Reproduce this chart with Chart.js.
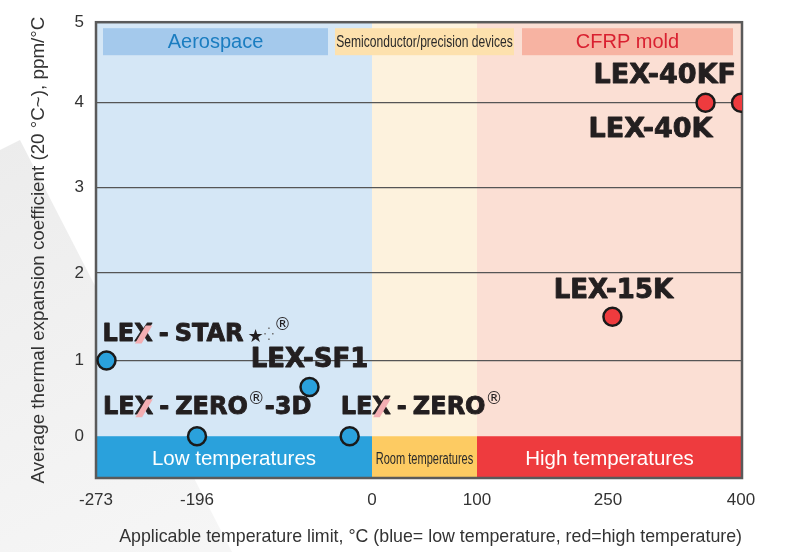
<!DOCTYPE html>
<html>
<head>
<meta charset="utf-8">
<script src="https://cdn.jsdelivr.net/npm/chart.js@4/dist/chart.umd.min.js"></script>
<style>
  html, body { margin: 0; padding: 0; background: #fff; }
  #wrap { width: 792px; height: 552px; position: relative; }
</style>
</head>
<body>
<div id="wrap"><canvas id="lexChart" width="792" height="552"></canvas></div>
<script>
/* =========================
   DATA
========================= */
const products  = ['LEX-STAR', 'LEX-ZERO-3D', 'LEX-SF1', 'LEX-ZERO', 'LEX-15K', 'LEX-40K', 'LEX-40KF'];
const tempLimit = [-265, -196, -70, -25, 255, 360, 400];     // °C
const cte       = [1, 0, 0.65, 0, 1.5, 4, 4];                // ppm/°C
const isHigh    = [false, false, false, false, true, true, true];

const xTicks = [-273, -196, 0, 100, 250, 400];
const yTicks = [0, 1, 2, 3, 4, 5];

const topBands    = ['Aerospace', 'Semiconductor/precision devices', 'CFRP mold'];
const bottomBands = ['Low temperatures', 'Room temperatures', 'High temperatures'];
const bandLimits  = [-273, 0, 100, 400];   // °C limits of the three zones

const xTitle = 'Applicable temperature limit, °C (blue= low temperature, red=high temperature)';
const yTitle = 'Average thermal expansion coefficient (20 °C~), ppm/°C';

/* =========================
   AXIS SPACING (the printed axes are not linear)
   width of each tick interval, in px
========================= */
const xGaps = [101, 175, 105, 131, 133];
const yGaps = [76, 88, 86, 85, 81];
const yBelowZero = 42;

function piecewise(ticks, gaps, v){
  let pos = 0;
  for(let i = 0; i < gaps.length; i++){
    const a = ticks[i], b = ticks[i+1];
    if(v <= b || i === gaps.length - 1){
      return pos + (v - a) / (b - a) * gaps[i];
    }
    pos += gaps[i];
  }
  return pos;
}
const xPos = v => piecewise(xTicks, xGaps, v);
const yPos = v => piecewise(yTicks, yGaps, v);

const xMax = xGaps.reduce((s, g) => s + g, 0) + 1;
const yMax = yGaps.reduce((s, g) => s + g, 0);

/* =========================
   COLOURS
========================= */
const BLUE = '#2aa1dc', RED = '#ee3b3e';
const zoneBg   = ['#d5e7f6', '#fdf2dd', '#fbdfd4'];
const zoneLow  = ['#2aa1dc', '#fdcb62', '#ee3b3e'];
const topBoxBg = ['#a4c9ec', '#fde1ad', '#f7b3a2'];
const topBoxFg = ['#1b7dc0', '#2a2a2a', '#d92030'];
const INK = '#231f20';

/* =========================
   LABELS FOR THE POINTS
========================= */
const HEAVY = 'bold 26px "DejaVu Sans"';
const LOGO  = 'bold 24px "DejaVu Sans"';
const SUP   = '17px "DejaVu Sans"';
const labelParts = [
  [{t:'LEX', f:LOGO, x:true}, {g:6}, {t:'-', f:LOGO}, {g:6}, {t:'STAR', f:LOGO}, {g:4}, {t:'★', f:'18px "DejaVu Sans"', dy:3}, {t:'⁛', f:'13px "DejaVu Sans"', dy:0, c:'#666'}, {t:'®', f:SUP, dy:-9}],
  [{t:'LEX', f:LOGO, x:true}, {g:6}, {t:'-', f:LOGO}, {g:6}, {t:'ZERO', f:LOGO}, {t:'®', f:SUP, dy:-9}, {t:'-3D', f:LOGO}],
  [{t:'LEX-SF1', f:HEAVY}],
  [{t:'LEX', f:LOGO, x:true}, {g:6}, {t:'-', f:LOGO}, {g:6}, {t:'ZERO', f:LOGO}, {t:'®', f:SUP, dy:-9}],
  [{t:'LEX-15K', f:HEAVY}],
  [{t:'LEX-40K', f:'bold 27px "DejaVu Sans"'}],
  [{t:'LEX-40KF', f:'bold 27px "DejaVu Sans"'}]
];
// [dx, dy, align] relative to the point
const labelPlace = [
  [-4, -26, 'left'], [-94, -28, 'left'], [0, -27, 'center'], [-9, -28, 'left'],
  [1, -26, 'center'], [7, 27, 'right'], [-5, -27, 'right']
];

function drawParts(c, parts, x, y, align){
  let w = 0;
  parts.forEach(p => {
    if(p.g){ w += p.g; return; }
    c.font = p.f; w += c.measureText(p.t).width;
  });
  let cx = align === 'left' ? x : align === 'right' ? x - w : x - w / 2;
  c.textAlign = 'left';
  c.textBaseline = 'middle';
  c.lineJoin = 'round';
  parts.forEach(p => {
    if(p.g){ cx += p.g; return; }
    c.font = p.f;
    c.fillStyle = p.c || INK;
    c.fillText(p.t, cx, y + (p.dy || 0));
    if(p.f.startsWith('bold')){
      c.strokeStyle = INK;
      c.lineWidth = 0.9;
      c.strokeText(p.t, cx, y + (p.dy || 0));
    }
    const pw = c.measureText(p.t).width;
    if(p.x){
      // pink hatched stroke on the X of the logo
      const xw = c.measureText('X').width;
      const x0 = cx + pw - xw;
      c.save();
      c.beginPath();
      c.moveTo(x0 + xw*0.62, y - 9); c.lineTo(x0 + xw*0.98, y - 9);
      c.lineTo(x0 + xw*0.40, y + 9); c.lineTo(x0 + xw*0.04, y + 9);
      c.closePath();
      c.fillStyle = '#f3aeb2';
      c.fill();
      c.restore();
    }
    cx += pw;
  });
}

/* =========================
   PLUGINS
========================= */
const backdrop = {
  id: 'backdrop',
  beforeDraw(chart){
    const c = chart.ctx, a = chart.chartArea;
    const xs = chart.scales.x, ys = chart.scales.y;

    // faint picture behind the left side
    c.save();
    const grd = c.createLinearGradient(0, 140, 200, 552);
    grd.addColorStop(0, '#ececec');
    grd.addColorStop(1, '#f6f6f6');
    c.fillStyle = grd;
    c.beginPath();
    c.moveTo(0, 150); c.lineTo(20, 140); c.lineTo(232, 552); c.lineTo(0, 552);
    c.closePath(); c.fill();
    c.restore();

    const zeroY = ys.getPixelForValue(yPos(0));
    for(let i = 0; i < 3; i++){
      const l = i === 0 ? a.left : xs.getPixelForValue(xPos(bandLimits[i]));
      const r = i === 2 ? a.right : xs.getPixelForValue(xPos(bandLimits[i+1]));
      c.fillStyle = zoneBg[i];
      c.fillRect(l, a.top, r - l, zeroY - a.top);
      c.fillStyle = zoneLow[i];
      c.fillRect(l, zeroY, r - l, a.bottom - zeroY);
    }

    // top boxes
    const boxes = [[103, 328], [335, 514], [522, 733]];
    boxes.forEach((b, i) => {
      c.fillStyle = topBoxBg[i];
      c.fillRect(b[0], a.top + 6, b[1] - b[0], 27);
      c.fillStyle = topBoxFg[i];
      c.textAlign = 'center';
      c.textBaseline = 'middle';
      if(i === 1){
        c.save();
        c.translate((b[0] + b[1]) / 2, a.top + 20);
        c.scale(0.71, 1);
        c.font = '17px "Liberation Sans"';
        c.fillText(topBands[i], 0, 0);
        c.restore();
      } else {
        c.font = '20px "Liberation Sans"';
        c.fillText(topBands[i], (b[0] + b[1]) / 2, a.top + 20);
      }
    });

    // bottom zone names
    const midY = (zeroY + a.bottom) / 2 + 2;
    for(let i = 0; i < 3; i++){
      const l = i === 0 ? a.left : xs.getPixelForValue(xPos(bandLimits[i]));
      const r = i === 2 ? a.right : xs.getPixelForValue(xPos(bandLimits[i+1]));
      c.textAlign = 'center';
      c.textBaseline = 'middle';
      if(i === 1){
        c.save();
        c.translate((l + r) / 2, midY);
        c.scale(0.69, 1);
        c.fillStyle = '#2a2a2a';
        c.font = '16px "Liberation Sans"';
        c.fillText(bottomBands[i], 0, 0);
        c.restore();
      } else {
        c.fillStyle = '#ffffff';
        c.font = '20.5px "Liberation Sans"';
        c.fillText(bottomBands[i], (l + r) / 2, midY);
      }
    }
  },
  beforeDatasetsDraw(chart){
    const c = chart.ctx, a = chart.chartArea;
    c.save();
    c.strokeStyle = '#5a5a5a';
    c.lineWidth = 2.5;
    c.strokeRect(a.left, a.top, a.right - a.left, a.bottom - a.top);
    c.restore();
  },
  afterDatasetsDraw(chart){
    const c = chart.ctx;
    const meta = chart.getDatasetMeta(0);
    c.save();
    meta.data.forEach((pt, i) => {
      const [dx, dy, al] = labelPlace[i];
      drawParts(c, labelParts[i], pt.x + dx, pt.y + dy, al);
    });
    c.restore();
  }
};

/* =========================
   CHART
========================= */
const points = products.map((p, i) => ({ x: xPos(tempLimit[i]), y: yPos(cte[i]) }));

new Chart(document.getElementById('lexChart'), {
  type: 'scatter',
  data: {
    datasets: [{
      label: 'CTE',
      data: points,
      backgroundColor: isHigh.map(h => h ? RED : BLUE),
      borderColor: '#1a1a1a',
      borderWidth: 2.5,
      pointRadius: 9,
      pointHoverRadius: 9
    }]
  },
  plugins: [backdrop],
  options: {
    responsive: false,
    animation: false,
    layout: { padding: { left: 0, right: 50, top: 20, bottom: 0 } },
    plugins: { legend: { display: false }, tooltip: { enabled: false } },
    scales: {
      x: {
        type: 'linear',
        min: 0,
        max: xMax,
        afterBuildTicks: s => { s.ticks = xTicks.map(v => ({ value: xPos(v) })); },
        afterFit: s => { s.height = 74; },
        ticks: {
          autoSkip: false,
          maxRotation: 0,
          padding: 12,
          color: '#333',
          font: { family: '"Liberation Sans"', size: 17 },
          callback: (val, idx) => String(xTicks[idx])
        },
        grid: { display: false, drawTicks: false },
        border: { display: false },
        title: {
          display: true,
          text: xTitle,
          align: 'end',
          color: '#333',
          font: { family: '"Liberation Sans"', size: 17.8 },
          padding: { top: 4, bottom: 4 }
        }
      },
      y: {
        type: 'linear',
        min: -yBelowZero,
        max: yMax,
        afterBuildTicks: s => { s.ticks = yTicks.map(v => ({ value: yPos(v) })); },
        afterFit: s => { s.width = 96; },
        ticks: {
          padding: 12,
          color: '#333',
          font: { family: '"Liberation Sans"', size: 17 },
          callback: (val, idx) => String(yTicks[idx])
        },
        grid: {
          drawTicks: false,
          color: ctx => (ctx.index === 0 || ctx.index === yTicks.length - 1) ? 'rgba(0,0,0,0)' : '#555',
          lineWidth: 1.2
        },
        border: { display: false },
        title: {
          display: true,
          text: yTitle,
          color: '#333',
          font: { family: '"Liberation Sans"', size: 18.8 },
          padding: { top: 28, bottom: 4 }
        }
      }
    }
  }
});
</script>
</body>
</html>
